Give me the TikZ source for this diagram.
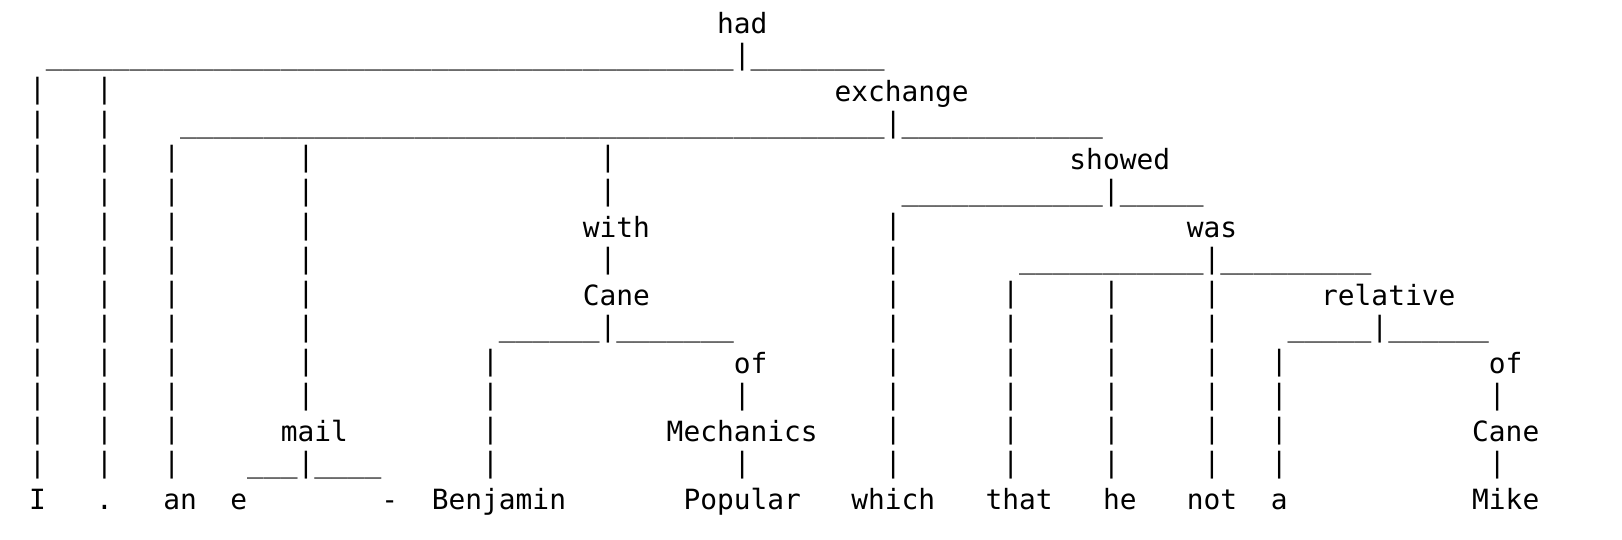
\documentclass[tikz,border=0pt]{standalone}
\usepackage{fontspec}
\newfontfamily\treefont{DejaVu Sans Mono}

% n underscores, a stroke, m underscores
\newcommand{\branch}[2]{\foreach \i in {1,...,#1}{\_}|\foreach \i in {1,...,#2}{\_}}

\begin{document}
\begin{tikzpicture}[
    x=16.78pt, y=-34pt,
    word/.style={font=\treefont\fontsize{27.87}{34}\selectfont, inner sep=0pt, outer sep=0pt, anchor=base west},
    bar/.style={word, yshift=3pt},
    pipe/.style={word, yshift=3pt}
]
\useasboundingbox (-1.734,0.0206) rectangle (94.93,15.903);

% inner words
\node[word] (had) at (41,1) {had};
\node[word] (exchange) at (48,3) {exchange};
\node[word] (showed) at (62,5) {showed};
\node[word] (with) at (33,7) {with};
\node[word] (was) at (69,7) {was};
\node[word] (cane) at (33,9) {Cane};
\node[word] (relative) at (77,9) {relative};
\node[word] (ofmech) at (42,11) {of};
\node[word] (ofcane) at (87,11) {of};
\node[word] (mail) at (15,13) {mail};
\node[word] (mechanics) at (38,13) {Mechanics};
\node[word] (canemike) at (86,13) {Cane};

% leaves
\node[word] (i) at (0,15) {I};
\node[word] (dot) at (4,15) {.};
\node[word] (an) at (8,15) {an};
\node[word] (e) at (12,15) {e};
\node[word] (dash) at (21,15) {-};
\node[word] (benjamin) at (24,15) {Benjamin};
\node[word] (popular) at (39,15) {Popular};
\node[word] (which) at (49,15) {which};
\node[word] (that) at (57,15) {that};
\node[word] (he) at (64,15) {he};
\node[word] (not) at (69,15) {not};
\node[word] (a) at (74,15) {a};
\node[word] (mike) at (86,15) {Mike};

% branch lines
\node[bar] (hadbar) at (1,2) {\branch{41}{8}};
\node[bar] (exchangebar) at (9,4) {\branch{42}{12}};
\node[bar] (showedbar) at (52,6) {\branch{12}{5}};
\node[bar] (wasbar) at (59,8) {\branch{11}{9}};
\node[bar] (canebar) at (28,10) {\branch{6}{7}};
\node[bar] (relativebar) at (75,10) {\branch{5}{6}};
\node[bar] (mailbar) at (13,14) {\branch{3}{4}};

% vertical strokes
\foreach \c/\a/\b in {0/3/14, 4/3/14, 8/5/14, 16/5/12, 34/5/6, 51/7/14, 27/11/14,
                      58/9/14, 64/9/14, 70/9/14, 74/11/14}
  \foreach \r in {\a,...,\b}
    \node[pipe] (p-\c-\r) at (\c,\r) {|};
\foreach \c/\r in {34/8, 42/12, 42/14, 87/12, 87/14}
  \node[pipe] (p-\c-\r) at (\c,\r) {|};

\end{tikzpicture}
\end{document}
